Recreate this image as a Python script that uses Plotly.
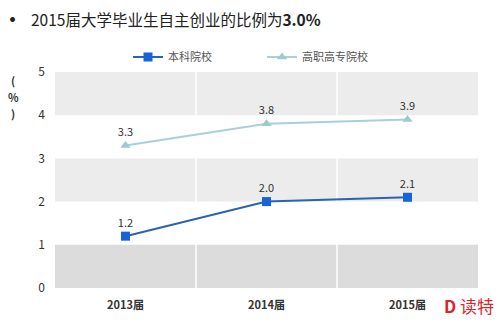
import plotly.graph_objects as go

categories = ["2013届", "2014届", "2015届"]
undergrad = [1.2, 2.0, 2.1]
vocational = [3.3, 3.8, 3.9]
series_names = ["本科院校", "高职高专院校"]
y_ticks = [0, 1, 2, 3, 4, 5]

fig = go.Figure()

fig.add_trace(go.Scatter(
    x=categories, y=undergrad, name=series_names[0], mode="lines+markers+text",
    line=dict(color="#2a63b0", width=2),
    marker=dict(symbol="square", size=9, color="#1565d8"),
    text=[f"{v:.1f}" for v in undergrad], textposition="top center",
    textfont=dict(size=11, color="#333333", family="Noto Sans CJK SC"),
))
fig.add_trace(go.Scatter(
    x=categories, y=vocational, name=series_names[1], mode="lines+markers+text",
    line=dict(color="#a9d0da", width=2),
    marker=dict(symbol="triangle-up", size=9, color="#9fc9d2"),
    text=[f"{v:.1f}" for v in vocational], textposition="top center",
    textfont=dict(size=11, color="#333333", family="Noto Sans CJK SC"),
))

shapes = []
band_colors = {0: "#dcdcdc", 2: "#ececec", 4: "#ececec"}
for lo, col in band_colors.items():
    shapes.append(dict(type="rect", xref="x", yref="y", x0=-0.5, x1=2.5, y0=lo, y1=lo + 1,
                       fillcolor=col, line=dict(width=0), layer="below"))
for xb in [0.5, 1.5]:
    shapes.append(dict(type="line", xref="x", yref="y", x0=xb, x1=xb, y0=0, y1=5,
                       line=dict(color="white", width=1.5), layer="below"))

ph = 216.0  # plot height in px
def py(pix):
    return (288 - pix) / ph

annotations = [
    dict(text="<b>•</b>", xref="paper", yref="paper", x=(12 - 55) / 423, y=py(19),
         xanchor="center", yanchor="middle", showarrow=False,
         font=dict(size=19, color="#222222", family="Noto Sans CJK SC")),
    dict(text="2015届大学毕业生自主创业的比例为<b>3.0%</b>",
         xref="paper", yref="paper", x=(29 - 55) / 423, y=py(19), xanchor="left", yanchor="middle",
         showarrow=False, font=dict(size=15.5, color="#222222", family="Noto Sans CJK SC")),
    dict(text="<b>D</b> 读特", xref="paper", yref="paper", x=(496 - 55) / 423, y=py(305),
         xanchor="right", yanchor="middle", showarrow=False,
         font=dict(size=17, color="#d8262c", family="Noto Sans CJK SC")),
]
for ch, ypix in zip(["(", "%", ")"], [80, 97, 113]):
    annotations.append(dict(text=f"<b>{ch}</b>", xref="paper", yref="paper",
                            x=(13 - 55) / 423, y=py(ypix), xanchor="center", yanchor="middle",
                            showarrow=False, font=dict(size=11, color="#333333")))

fig.update_layout(
    width=500, height=324,
    margin=dict(l=55, r=22, t=72, b=36),
    paper_bgcolor="white", plot_bgcolor="white",
    font=dict(family="Noto Sans CJK SC", color="#333333"),
    shapes=shapes,
    showlegend=True,
    legend=dict(orientation="h", x=(128 - 55) / 423, xanchor="left", y=py(57), yanchor="middle",
                font=dict(size=11, color="#555555"),
                entrywidthmode="pixels", entrywidth=89),
    xaxis=dict(type="category", range=[-0.5, 2.5], showgrid=False, zeroline=False,
               showline=False, ticks="", ticklabelstandoff=9,
               tickfont=dict(size=11, color="#333333", family="Noto Sans CJK SC"),
               tickprefix="<b>", ticksuffix="</b>"),
    yaxis=dict(range=[0, 5], tickvals=y_ticks, showgrid=False, zeroline=False,
               showline=False, ticks="", ticklabelstandoff=9,
               tickfont=dict(size=12, color="#333333"),
               tickprefix="<b>", ticksuffix="</b>"),
    annotations=annotations,
)

fig.write_html("out.html")
